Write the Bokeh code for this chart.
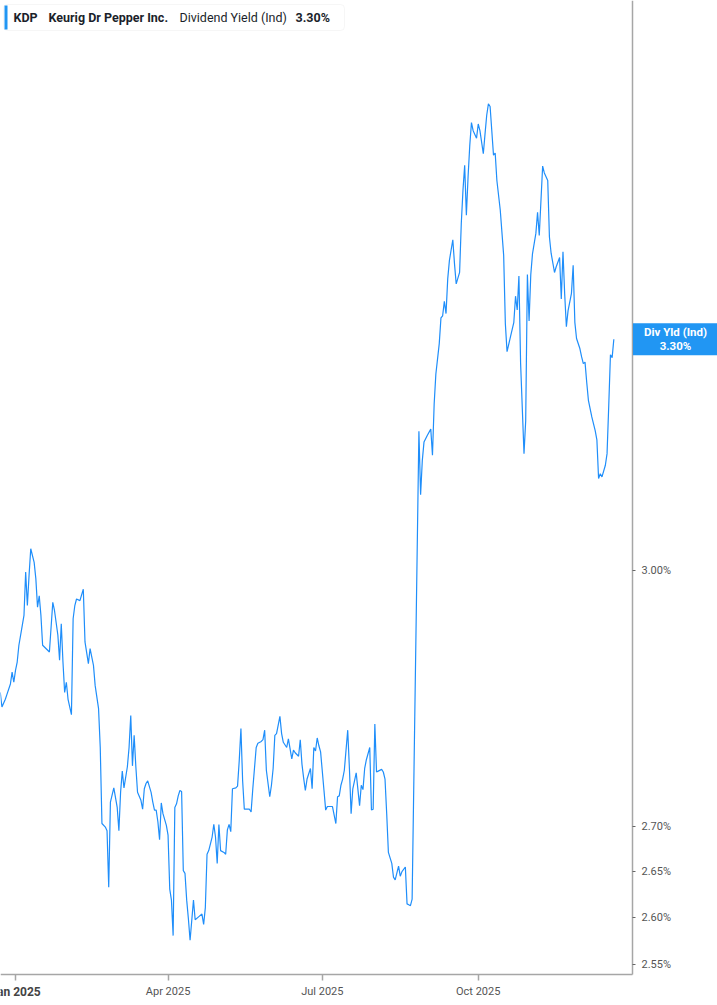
import math
from datetime import datetime, timedelta

import pandas as pd
from bokeh.plotting import figure
from bokeh.models import (Range1d, FixedTicker, PrintfTickFormatter, Label,
                          BoxAnnotation, ColumnDataSource)
from bokeh.embed import file_html
from bokeh.resources import INLINE

# ---------------- data ----------------
dates = [
    "2024-12-23", "2024-12-24", "2024-12-26", "2024-12-27", "2024-12-29", "2024-12-30", "2024-12-31",
    "2025-01-01", "2025-01-02", "2025-01-03", "2025-01-05", "2025-01-06", "2025-01-07", "2025-01-08",
    "2025-01-09", "2025-01-10", "2025-01-12", "2025-01-13", "2025-01-14", "2025-01-15", "2025-01-16",
    "2025-01-17", "2025-01-20", "2025-01-21", "2025-01-23", "2025-01-24", "2025-01-26", "2025-01-27",
    "2025-01-28", "2025-01-29", "2025-01-30", "2025-01-31",
    "2025-02-01", "2025-02-03", "2025-02-04", "2025-02-05", "2025-02-06", "2025-02-08", "2025-02-10",
    "2025-02-11", "2025-02-13", "2025-02-14", "2025-02-16", "2025-02-17", "2025-02-19", "2025-02-20",
    "2025-02-21", "2025-02-23", "2025-02-24", "2025-02-25", "2025-02-26", "2025-02-28",
    "2025-03-02", "2025-03-03", "2025-03-04", "2025-03-05", "2025-03-06", "2025-03-08", "2025-03-09",
    "2025-03-10", "2025-03-11", "2025-03-12", "2025-03-13", "2025-03-14", "2025-03-16", "2025-03-17",
    "2025-03-18", "2025-03-19", "2025-03-20", "2025-03-22", "2025-03-23", "2025-03-24", "2025-03-25",
    "2025-03-26", "2025-03-27", "2025-03-28", "2025-03-29", "2025-03-31",
    "2025-04-01", "2025-04-02", "2025-04-03", "2025-04-04", "2025-04-05", "2025-04-06", "2025-04-07",
    "2025-04-08", "2025-04-09", "2025-04-10", "2025-04-11", "2025-04-12", "2025-04-13", "2025-04-14",
    "2025-04-16", "2025-04-17", "2025-04-19", "2025-04-21", "2025-04-22", "2025-04-23", "2025-04-24",
    "2025-04-25", "2025-04-27", "2025-04-28", "2025-04-29", "2025-04-30",
    "2025-05-01", "2025-05-02", "2025-05-04", "2025-05-05", "2025-05-06", "2025-05-07", "2025-05-08",
    "2025-05-09", "2025-05-11", "2025-05-12", "2025-05-13", "2025-05-14", "2025-05-15", "2025-05-16",
    "2025-05-19", "2025-05-20", "2025-05-21", "2025-05-23", "2025-05-24", "2025-05-26", "2025-05-27",
    "2025-05-28", "2025-05-29", "2025-05-31",
    "2025-06-01", "2025-06-02", "2025-06-03", "2025-06-04", "2025-06-06", "2025-06-07", "2025-06-08",
    "2025-06-10", "2025-06-11", "2025-06-13", "2025-06-14", "2025-06-15", "2025-06-17", "2025-06-18",
    "2025-06-19", "2025-06-20", "2025-06-21", "2025-06-22", "2025-06-24", "2025-06-25", "2025-06-26",
    "2025-06-27", "2025-06-28", "2025-06-29", "2025-06-30",
    "2025-07-02", "2025-07-03", "2025-07-04", "2025-07-06", "2025-07-07", "2025-07-09", "2025-07-10",
    "2025-07-11", "2025-07-12", "2025-07-13", "2025-07-14", "2025-07-16", "2025-07-17", "2025-07-18",
    "2025-07-19", "2025-07-20", "2025-07-21", "2025-07-23", "2025-07-24", "2025-07-25", "2025-07-26",
    "2025-07-27", "2025-07-29", "2025-07-30", "2025-07-31",
    "2025-08-01", "2025-08-02", "2025-08-03", "2025-08-05", "2025-08-06", "2025-08-07", "2025-08-08",
    "2025-08-09", "2025-08-10", "2025-08-11", "2025-08-12", "2025-08-13", "2025-08-15", "2025-08-16",
    "2025-08-17", "2025-08-19", "2025-08-20", "2025-08-21", "2025-08-22", "2025-08-23", "2025-08-27",
    "2025-08-28", "2025-08-29", "2025-08-30",
    "2025-09-01", "2025-09-03", "2025-09-04", "2025-09-05", "2025-09-06", "2025-09-08", "2025-09-09",
    "2025-09-10", "2025-09-11", "2025-09-12", "2025-09-13", "2025-09-14", "2025-09-16", "2025-09-17",
    "2025-09-18", "2025-09-20", "2025-09-21", "2025-09-22", "2025-09-23", "2025-09-24", "2025-09-25",
    "2025-09-26", "2025-09-27", "2025-09-28", "2025-09-30",
    "2025-10-01", "2025-10-02", "2025-10-04", "2025-10-05", "2025-10-06", "2025-10-07", "2025-10-08",
    "2025-10-10", "2025-10-11", "2025-10-12", "2025-10-14", "2025-10-16", "2025-10-17", "2025-10-18",
    "2025-10-20", "2025-10-22", "2025-10-23", "2025-10-24", "2025-10-25", "2025-10-26", "2025-10-28",
    "2025-10-29", "2025-10-30", "2025-10-31",
    "2025-11-01", "2025-11-02", "2025-11-04", "2025-11-05", "2025-11-06", "2025-11-08", "2025-11-09",
    "2025-11-11", "2025-11-12", "2025-11-13", "2025-11-15", "2025-11-16", "2025-11-18", "2025-11-19",
    "2025-11-20", "2025-11-21", "2025-11-22", "2025-11-23", "2025-11-25", "2025-11-26", "2025-11-27",
    "2025-11-28", "2025-11-30",
    "2025-12-01", "2025-12-02", "2025-12-03", "2025-12-04", "2025-12-05", "2025-12-07", "2025-12-09",
    "2025-12-10", "2025-12-11", "2025-12-12", "2025-12-13", "2025-12-15", "2025-12-16", "2025-12-17",
    "2025-12-18", "2025-12-19", "2025-12-20",
]

dividend_yield = [
    2.853, 2.836, 2.845, 2.851, 2.863, 2.877, 2.865,
    2.879, 2.889, 2.909, 2.933, 2.945, 2.998, 2.957, 2.994, 3.027, 3.010, 2.990, 2.955, 2.969,
    2.945, 2.909, 2.903, 2.901, 2.961, 2.951, 2.921, 2.891, 2.935, 2.889, 2.853, 2.865,
    2.845, 2.827, 2.941, 2.957, 2.965, 2.963, 2.977, 2.913, 2.887, 2.905, 2.885, 2.861, 2.834,
    2.789, 2.703, 2.699, 2.695, 2.633, 2.727, 2.743,
    2.721, 2.695, 2.738, 2.762, 2.743, 2.767, 2.789, 2.826, 2.768, 2.803, 2.767, 2.738, 2.729,
    2.719, 2.742, 2.748, 2.751, 2.738, 2.727, 2.718, 2.718, 2.705, 2.685, 2.726, 2.714, 2.701,
    2.690, 2.631, 2.619, 2.581, 2.721, 2.725, 2.734, 2.740, 2.739, 2.651, 2.648, 2.619, 2.599,
    2.576, 2.619, 2.598, 2.601, 2.604, 2.593, 2.611, 2.669, 2.673, 2.688, 2.702, 2.688, 2.659,
    2.702, 2.673, 2.671, 2.669, 2.696, 2.702, 2.694, 2.742, 2.743, 2.745, 2.774, 2.811, 2.751,
    2.719, 2.719, 2.716, 2.742, 2.789, 2.794, 2.796, 2.798, 2.809, 2.763, 2.733,
    2.746, 2.765, 2.803, 2.805, 2.825, 2.805, 2.795, 2.789, 2.799, 2.776, 2.786, 2.783, 2.779,
    2.798, 2.770, 2.754, 2.740, 2.753, 2.765, 2.742, 2.789, 2.785, 2.800, 2.791, 2.784,
    2.740, 2.718, 2.722, 2.722, 2.722, 2.703, 2.733, 2.734, 2.746, 2.753, 2.763, 2.809, 2.765,
    2.714, 2.742, 2.751, 2.760, 2.723, 2.746, 2.741, 2.765, 2.775, 2.789, 2.718, 2.719,
    2.816, 2.761, 2.762, 2.764, 2.761, 2.753, 2.714, 2.671, 2.665, 2.659, 2.644, 2.641, 2.656,
    2.645, 2.650, 2.655, 2.615, 2.614, 2.613, 2.620, 3.177, 3.095, 3.139, 3.163,
    3.172, 3.180, 3.146, 3.213, 3.253, 3.294, 3.329, 3.332, 3.352, 3.335, 3.383, 3.409, 3.438,
    3.404, 3.376, 3.392, 3.461, 3.509, 3.545, 3.473, 3.528, 3.574, 3.608, 3.596, 3.585,
    3.606, 3.596, 3.562, 3.591, 3.619, 3.636, 3.632, 3.560, 3.563, 3.523, 3.480, 3.416, 3.321,
    3.283, 3.303, 3.323, 3.359, 3.340, 3.387, 3.267, 3.148, 3.191, 3.389, 3.325,
    3.389, 3.418, 3.447, 3.477, 3.444, 3.544, 3.534, 3.523, 3.442, 3.419, 3.392, 3.400, 3.413,
    3.355, 3.421, 3.362, 3.317, 3.339, 3.363, 3.402, 3.323, 3.301, 3.287,
    3.276, 3.267, 3.269, 3.242, 3.218, 3.196, 3.178, 3.166, 3.116, 3.122, 3.118, 3.133, 3.148,
    3.211, 3.279, 3.275, 3.300,
]

x_tick_dates = ["2025-01-01", "2025-04-01", "2025-07-01", "2025-10-01"]
x_tick_labels = ["Jan 2025", "Apr 2025", "Jul 2025", "Oct 2025"]
y_ticks = [2.55, 2.60, 2.65, 2.70, 3.00]

symbol = "KDP"
company = "Keurig Dr Pepper Inc."
metric = "Dividend Yield (Ind)"
last_label = "Div Yld (Ind)"
last_value = dividend_yield[-1]

assert len(dates) == len(dividend_yield)

# ---------------- layout constants ----------------
EPOCH = datetime(1970, 1, 1)


def ms(d):
    return (d - EPOCH).total_seconds() * 1000.0


W, H = 717, 1005
PX_PER_DAY = 1.695          # horizontal scale
JAN_PX = 15                 # pixel of 1 Jan 2025
PX_PER_LN = 2427.0          # vertical (log) scale
Y_TOP = 3.7942              # value at the top pixel row
AXIS_X_PX, AXIS_Y_PX = 632, 974

X0 = datetime(2025, 1, 1) - timedelta(days=JAN_PX / PX_PER_DAY)
X1 = X0 + timedelta(days=W / PX_PER_DAY)
Y_BOT = Y_TOP * math.exp(-H / PX_PER_LN)

LINE_BLUE = "#1f8efa"
TAG_BLUE = "#2196f3"
TEXT_DARK = "#1b1f2b"
AXIS_GRAY = "#a6a6a6"
LABEL_GRAY = "#555555"
FONT = "Roboto"


def px_x(page_x):
    return ms(X0 + timedelta(days=page_x / PX_PER_DAY))


def px_y(page_y):
    return Y_TOP * math.exp(-page_y / PX_PER_LN)


p = figure(
    x_axis_type="datetime", y_axis_type="log", y_axis_location="right",
    x_range=Range1d(ms(X0), ms(X1)), y_range=Range1d(Y_BOT, Y_TOP),
    frame_width=W, frame_height=H,
    min_border=0, min_border_left=0, min_border_right=0, min_border_top=0, min_border_bottom=0,
    output_backend="svg", toolbar_location=None,
)
p.background_fill_color = "white"
p.border_fill_color = "white"
p.outline_line_color = None
p.grid.visible = False

src = ColumnDataSource(dict(x=pd.to_datetime(dates), y=dividend_yield))
p.line("x", "y", source=src, line_color=LINE_BLUE, line_width=1.2)

# ---------------- x axis ----------------
xt = [ms(datetime.strptime(d, "%Y-%m-%d")) for d in x_tick_dates]
xa = p.xaxis[0]
xa.fixed_location = px_y(AXIS_Y_PX)
xa.bounds = (ms(X0), px_x(AXIS_X_PX))
xa.ticker = FixedTicker(ticks=xt)
overrides = {t: lab for t, lab in zip(xt, x_tick_labels)}
overrides[xt[0]] = " "
xa.major_label_overrides = overrides
xa.axis_line_color = AXIS_GRAY
xa.axis_line_width = 1.5
xa.major_tick_line_color = AXIS_GRAY
xa.major_tick_line_width = 1.5
xa.major_tick_in = 0
xa.major_tick_out = 6
xa.minor_tick_line_color = None
xa.major_label_text_font = FONT
xa.major_label_text_font_size = "11px"
xa.major_label_text_color = LABEL_GRAY
xa.major_label_standoff = 4

# bold first-year label
p.add_layout(Label(x=xt[0], y=px_y(991), text=x_tick_labels[0], text_align="center",
                   text_baseline="middle", text_font=FONT, text_font_size="12px",
                   text_font_style="bold", text_color="#444444"))

# ---------------- y axis (right) ----------------
ya = p.yaxis[0]
ya.fixed_location = px_x(AXIS_X_PX)
ya.bounds = (px_y(AXIS_Y_PX), Y_TOP)
ya.ticker = FixedTicker(ticks=y_ticks)
ya.formatter = PrintfTickFormatter(format="%.2f%%")
ya.axis_line_color = AXIS_GRAY
ya.axis_line_width = 1.5
ya.major_tick_line_color = "#666666"
ya.major_tick_in = 0
ya.major_tick_out = 3
ya.minor_tick_line_color = None
ya.major_label_text_font = FONT
ya.major_label_text_font_size = "11px"
ya.major_label_text_color = LABEL_GRAY
ya.major_label_standoff = 6

# ---------------- last value tag ----------------
p.add_layout(Label(x=px_x(675), y=last_value, text=f"{last_label}\n{last_value:.2f}%",
                   text_align="center", text_baseline="middle", text_font=FONT,
                   text_font_size="11.5px", text_font_style="bold", text_color="white",
                   text_line_height=1.0,
                   background_fill_color=TAG_BLUE, padding=(11, 2)))

# ---------------- header box ----------------
p.add_layout(BoxAnnotation(left=px_x(3), right=px_x(344), top=px_y(4), bottom=px_y(30),
                           fill_color="white", fill_alpha=1.0, line_color="#e2e2e2",
                           line_width=1, border_radius=4))
p.add_layout(BoxAnnotation(left=px_x(4), right=px_x(7), top=px_y(5), bottom=px_y(29),
                           fill_color=TAG_BLUE, fill_alpha=1.0, line_color=None))
hy = px_y(17)
for txt, xpos, style in [(symbol, 13, "bold"), (company, 48, "bold"),
                         (metric, 179, "normal"), (f"{last_value:.2f}%", 295, "bold")]:
    p.add_layout(Label(x=px_x(xpos), y=hy, text=txt, text_align="left",
                       text_baseline="middle", text_font=FONT, text_font_size="12.5px",
                       text_font_style=style, text_color=TEXT_DARK))

open("out.html", "w").write(file_html(p, INLINE))
